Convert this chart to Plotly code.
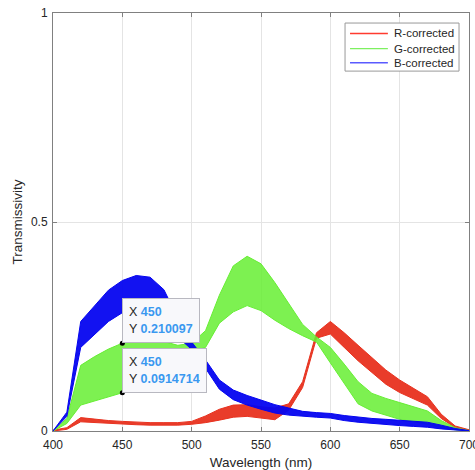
import plotly.graph_objects as go

# ---- data ----
wavelength = [400, 410, 420, 430, 440, 450, 460, 470, 480, 490, 500,
              510, 520, 530, 540, 550, 560, 570, 580, 590, 600,
              610, 620, 630, 640, 650, 660, 670, 680, 690, 700]

R_low = [0.000, 0.004, 0.022, 0.020, 0.018, 0.016, 0.015, 0.014, 0.014, 0.014, 0.016,
         0.020, 0.026, 0.033, 0.035, 0.031, 0.027, 0.050, 0.104, 0.222, 0.232,
         0.200, 0.168, 0.140, 0.112, 0.092, 0.077, 0.062, 0.030, 0.008, 0.001]
R_high = [0.002, 0.008, 0.032, 0.028, 0.025, 0.023, 0.021, 0.020, 0.020, 0.020, 0.023,
          0.036, 0.052, 0.062, 0.063, 0.058, 0.055, 0.065, 0.118, 0.235, 0.262,
          0.235, 0.205, 0.175, 0.146, 0.122, 0.102, 0.082, 0.040, 0.012, 0.003]

G_low = [0.000, 0.018, 0.062, 0.072, 0.082, 0.0914714, 0.105, 0.125, 0.150, 0.175, 0.190,
         0.200, 0.258, 0.285, 0.300, 0.288, 0.265, 0.245, 0.228, 0.213, 0.163,
         0.115, 0.065, 0.048, 0.038, 0.028, 0.022, 0.016, 0.008, 0.003, 0.000]
G_high = [0.000, 0.030, 0.157, 0.178, 0.196, 0.210097, 0.216, 0.218, 0.214, 0.205, 0.210,
          0.240, 0.325, 0.395, 0.418, 0.400, 0.355, 0.305, 0.255, 0.225, 0.200,
          0.160, 0.118, 0.090, 0.078, 0.068, 0.058, 0.048, 0.025, 0.008, 0.001]

B_low = [0.000, 0.035, 0.200, 0.232, 0.262, 0.283, 0.300, 0.305, 0.290, 0.225, 0.195,
         0.150, 0.100, 0.075, 0.062, 0.052, 0.043, 0.038, 0.035, 0.033, 0.031,
         0.025, 0.021, 0.018, 0.015, 0.013, 0.011, 0.009, 0.005, 0.002, 0.000]
B_high = [0.000, 0.045, 0.262, 0.300, 0.337, 0.360, 0.372, 0.368, 0.338, 0.270, 0.213,
          0.170, 0.122, 0.098, 0.085, 0.074, 0.063, 0.055, 0.047, 0.044, 0.042,
          0.037, 0.033, 0.030, 0.028, 0.026, 0.024, 0.021, 0.014, 0.006, 0.001]

series_names = ["R-corrected", "G-corrected", "B-corrected"]
x_ticks = [400, 450, 500, 550, 600, 650, 700]
y_ticks = [0, 0.5, 1]
y_tick_text = ["0", "0.5", "1"]

tip_x = [450, 450]
tip_y = [0.210097, 0.0914714]

# ---- styling ----
band_colors = ["#e8321f", "#66ee33", "#0505f0"]
fill_colors = ["rgba(232,50,31,0.95)", "rgba(102,238,51,0.85)", "rgba(5,5,240,0.95)"]
legend_colors = ["#ff3b2f", "#7ef060", "#5a5aff"]
FONT = "Liberation Sans, Arial, Helvetica, sans-serif"
TXT = "#262626"

fig = go.Figure()
bands = [(R_low, R_high), (G_low, G_high), (B_low, B_high)]
for i, (lo, hi) in enumerate(bands):
    fig.add_trace(go.Scatter(x=wavelength, y=lo, mode="lines", name=series_names[i],
                             line=dict(color=band_colors[i], width=1),
                             showlegend=False, hoverinfo="skip"))
    fig.add_trace(go.Scatter(x=wavelength, y=hi, mode="lines", fill="tonexty",
                             name=series_names[i], fillcolor=fill_colors[i],
                             line=dict(color=band_colors[i], width=1),
                             showlegend=False, hoverinfo="skip"))

# data tip markers
fig.add_trace(go.Scatter(x=tip_x, y=tip_y, mode="markers",
                         marker=dict(color="black", size=5),
                         showlegend=False, hoverinfo="skip"))

tip_widths = [64, 71]
for xv, yv, w in zip(tip_x, tip_y, tip_widths):
    fig.add_annotation(
        x=xv, y=yv, xref="x", yref="y", showarrow=False,
        xanchor="left", yanchor="bottom", align="left",
        width=w, height=31,
        text=(f"X <span style='color:#3a98f0'><b>{xv:g}</b></span><br>"
              f"Y <span style='color:#3a98f0'><b>{yv:g}</b></span>"),
        font=dict(family=FONT, size=12.5, color=TXT),
        bgcolor="#f8f8fb", bordercolor="#b8b8c0", borderwidth=1, borderpad=6,
    )

# legend box (drawn manually to match MATLAB's compact legend)
leg_x0, leg_x1, leg_y0, leg_y1 = 0.702, 0.976, 0.861, 0.976
fig.add_shape(type="rect", xref="paper", yref="paper",
              x0=leg_x0, x1=leg_x1, y0=leg_y0, y1=leg_y1,
              line=dict(color="#999999", width=1), fillcolor="white", layer="above")
row_y = [0.951, 0.915, 0.881]
for name, col, ry in zip(series_names, legend_colors, row_y):
    fig.add_shape(type="line", xref="paper", yref="paper",
                  x0=0.714, x1=0.805, y0=ry, y1=ry,
                  line=dict(color=col, width=1.3), layer="above")
    fig.add_annotation(x=0.815, y=ry, xref="paper", yref="paper", showarrow=False,
                       xanchor="left", yanchor="middle", text=name,
                       font=dict(family=FONT, size=11.5, color=TXT))

fig.update_layout(
    width=475, height=470,
    margin=dict(l=53, r=6, t=13, b=39),
    paper_bgcolor="white", plot_bgcolor="white",
    font=dict(family=FONT, size=12, color=TXT),
    showlegend=False,
    xaxis=dict(range=[400, 700], tickvals=x_ticks, showgrid=True,
               gridcolor="#e4e4e4", gridwidth=1, zeroline=False,
               showline=True, linecolor="#808080", linewidth=1, mirror="ticks",
               ticks="inside", ticklen=4, tickcolor="#808080",
               ticklabeloverflow="allow", automargin=False, ticklabelstandoff=3,
               tickfont=dict(size=12, color=TXT),
               title=dict(text="Wavelength (nm)", font=dict(size=13.5, color=TXT), standoff=6)),
    yaxis=dict(range=[0, 1], tickvals=y_ticks, ticktext=y_tick_text, showgrid=True,
               gridcolor="#e4e4e4", gridwidth=1, zeroline=False,
               showline=True, linecolor="#808080", linewidth=1, mirror="ticks",
               ticks="inside", ticklen=4, tickcolor="#808080",
               ticklabeloverflow="allow", automargin=False, ticklabelstandoff=2,
               tickfont=dict(size=12, color=TXT),
               title=dict(text="Transmissivity", font=dict(size=13.5, color=TXT), standoff=5)),
)

fig.write_html("out.html", config={"displayModeBar": False},
               post_script="document.body.style.margin='0px';")
